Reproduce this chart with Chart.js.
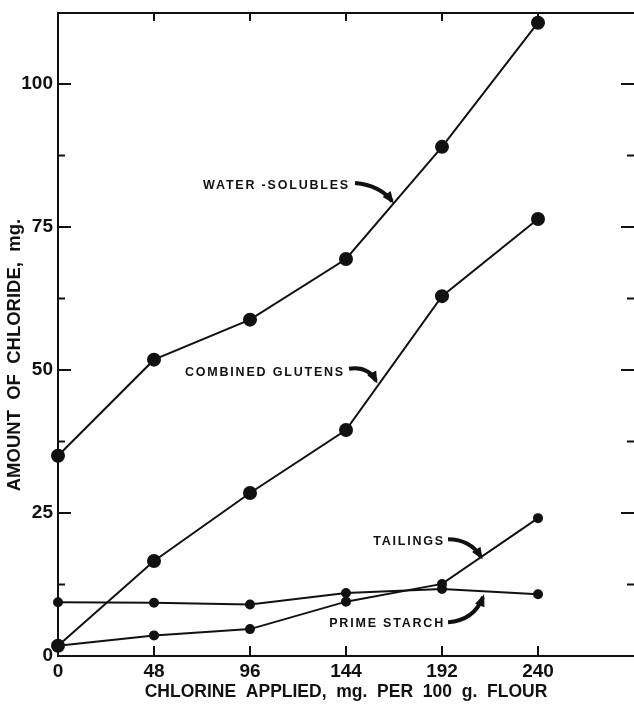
<!DOCTYPE html>
<html>
<head>
  <title>Chloride in flour fractions</title>
  <script src="https://cdn.jsdelivr.net/npm/chart.js@4.4.1/dist/chart.umd.min.js"></script>
  <style>
    html, body { margin: 0; padding: 0; background: #fff; overflow: hidden; }
    #wrap { width: 634px; height: 707px; position: relative; }
    canvas { display: block; }
  </style>
</head>
<body>
<div id="wrap"><canvas id="chart"></canvas></div>
<script>
  // chlorine applied, mg per 100 g flour
  const chlorineApplied = [0, 48, 96, 144, 192, 240];
  // chloride found in each fraction, mg
  const waterSolubles = [35.0, 51.8, 58.8, 69.4, 89.0, 110.7];
  const combinedGlutens = [1.8, 16.6, 28.5, 39.5, 62.9, 76.4];
  const tailings = [1.8, 3.6, 4.7, 9.5, 12.6, 24.1];
  const primeStarch = [9.4, 9.3, 9.0, 11.0, 11.7, 10.8];

  const xTicks = [0, 48, 96, 144, 192, 240];
  const yTicks = [0, 25, 50, 75, 100];
  const yMinorTicks = [12.5, 37.5, 62.5, 87.5];

  const FONT = "'Liberation Sans', Arial, sans-serif";

  // labels with curved arrows, given in data units
  const notes = [
    { text: 'WATER -SOLUBLES', x: 146, y: 82.3, from: [148.5, 82.7], ctrl: [161, 82.3], to: [167, 79.5] },
    { text: 'COMBINED GLUTENS', x: 143.5, y: 49.5, from: [145.5, 50.2], ctrl: [155, 50.7], to: [159, 48.1] },
    { text: 'TAILINGS', x: 193.5, y: 20.0, from: [195, 20.4], ctrl: [206, 20.4], to: [211.5, 17.3] },
    { text: 'PRIME STARCH', x: 193.5, y: 5.6, from: [195, 5.9], ctrl: [208, 6.2], to: [212.5, 10.3] }
  ];

  function pts(values) {
    return chlorineApplied.map((c, i) => ({ x: c, y: values[i] }));
  }

  const frame = {
    id: 'frame',
    afterDraw(chart) {
      const { ctx, chartArea: a, scales: { x, y } } = chart;
      ctx.save();
      ctx.strokeStyle = '#111';
      ctx.lineWidth = 2;
      ctx.beginPath();
      ctx.moveTo(a.left, a.top);
      ctx.lineTo(a.right, a.top);
      xTicks.slice(1).forEach(v => {
        const px = x.getPixelForValue(v);
        ctx.moveTo(px, a.top); ctx.lineTo(px, a.top + 8);
        ctx.moveTo(px, a.bottom); ctx.lineTo(px, a.bottom - 10);
      });
      yTicks.slice(1).forEach(v => {
        const py = y.getPixelForValue(v);
        ctx.moveTo(a.left, py); ctx.lineTo(a.left + 13, py);
        ctx.moveTo(a.right, py); ctx.lineTo(a.right - 13, py);
      });
      yMinorTicks.forEach(v => {
        const py = y.getPixelForValue(v);
        ctx.moveTo(a.left, py); ctx.lineTo(a.left + 7, py);
        ctx.moveTo(a.right, py); ctx.lineTo(a.right - 7, py);
      });
      ctx.stroke();
      ctx.restore();
    }
  };

  const arrows = {
    id: 'arrows',
    afterDatasetsDraw(chart) {
      const { ctx, scales: { x, y } } = chart;
      ctx.save();
      ctx.fillStyle = '#111';
      ctx.strokeStyle = '#111';
      ctx.font = 'bold 12.5px ' + FONT;
      ctx.letterSpacing = '1.8px';
      ctx.textAlign = 'right';
      ctx.textBaseline = 'middle';
      notes.forEach(n => {
        ctx.fillText(n.text, x.getPixelForValue(n.x), y.getPixelForValue(n.y));
        const fx = x.getPixelForValue(n.from[0]), fy = y.getPixelForValue(n.from[1]);
        const cx = x.getPixelForValue(n.ctrl[0]), cy = y.getPixelForValue(n.ctrl[1]);
        const tx = x.getPixelForValue(n.to[0]), ty = y.getPixelForValue(n.to[1]);
        ctx.lineWidth = 4;
        ctx.beginPath();
        ctx.moveTo(fx, fy);
        ctx.quadraticCurveTo(cx, cy, tx, ty);
        ctx.stroke();
        const ang = Math.atan2(ty - cy, tx - cx);
        ctx.beginPath();
        ctx.moveTo(tx + Math.cos(ang) * 3, ty + Math.sin(ang) * 3);
        ctx.lineTo(tx - Math.cos(ang) * 9 - Math.sin(ang) * 5, ty - Math.sin(ang) * 9 + Math.cos(ang) * 5);
        ctx.lineTo(tx - Math.cos(ang) * 9 + Math.sin(ang) * 5, ty - Math.sin(ang) * 9 - Math.cos(ang) * 5);
        ctx.closePath();
        ctx.fill();
      });
      ctx.restore();
    }
  };

  const line = (label, values, r) => ({
    label,
    data: pts(values),
    borderColor: '#111',
    backgroundColor: '#111',
    borderWidth: 2,
    pointRadius: r,
    pointBackgroundColor: '#111',
    pointBorderColor: '#111',
    tension: 0,
    clip: false
  });

  new Chart(document.getElementById('chart'), {
    type: 'line',
    data: {
      datasets: [
        line('Water-solubles', waterSolubles, 6),
        line('Combined glutens', combinedGlutens, 6),
        line('Tailings', tailings, 4),
        line('Prime starch', primeStarch, 4)
      ]
    },
    options: {
      responsive: true,
      maintainAspectRatio: false,
      animation: false,
      layout: { autoPadding: false, padding: { top: 13, left: 0, right: 0, bottom: 0 } },
      plugins: { legend: { display: false }, tooltip: { enabled: false } },
      scales: {
        x: {
          type: 'linear',
          min: 0,
          max: 288,
          afterFit: s => { s.height = 51; s.paddingLeft = 0; s.paddingRight = 0; },
          afterBuildTicks: s => { s.ticks = xTicks.map(v => ({ value: v })); },
          grid: { display: false, drawTicks: false },
          border: { display: true, color: '#111', width: 2 },
          ticks: { color: '#111', padding: 4, font: { family: FONT, size: 19, weight: 'bold' } },
          title: {
            display: true,
            text: 'CHLORINE  APPLIED,  mg.  PER  100  g.  FLOUR',
            color: '#111',
            padding: { top: 0, bottom: 4 },
            font: { family: FONT, size: 17.5, weight: 'bold' }
          }
        },
        y: {
          min: 0,
          max: 112.4,
          afterFit: s => { s.width = 58; s.paddingTop = 0; s.paddingBottom = 0; },
          afterBuildTicks: s => { s.ticks = yTicks.map(v => ({ value: v })); },
          grid: { display: false, drawTicks: false },
          border: { display: true, color: '#111', width: 2 },
          ticks: { color: '#111', padding: 5, font: { family: FONT, size: 19, weight: 'bold' } },
          title: {
            display: true,
            text: 'AMOUNT  OF  CHLORIDE,  mg.        ',
            color: '#111',
            padding: { top: 4, bottom: 2 },
            font: { family: FONT, size: 18.5, weight: 'bold' }
          }
        }
      }
    },
    plugins: [frame, arrows]
  });
</script>
</body>
</html>
